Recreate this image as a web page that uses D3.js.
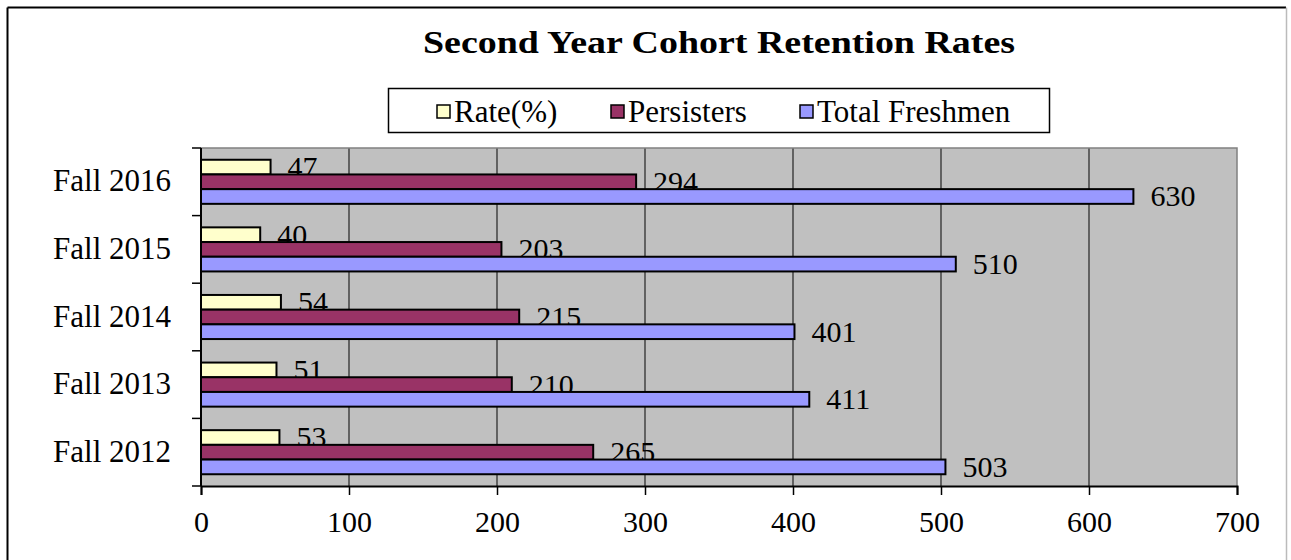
<!DOCTYPE html>
<html lang="en">
<head>
  <meta charset="UTF-8">
  <title>Second Year Cohort Retention Rates</title>
  <script src="https://d3js.org/d3.v7.min.js"></script>
  <style>
    body { margin: 0; background: #fff; }
    text { font-family: "Liberation Serif", "Times New Roman", serif; fill: #000; }
  </style>
</head>
<body>
  <svg width="1291" height="560"></svg>

  <script>
    // chart data
    const cohorts = ["Fall 2016", "Fall 2015", "Fall 2014", "Fall 2013", "Fall 2012"];
    const rate = [47, 40, 54, 51, 53];
    const persisters = [294, 203, 215, 210, 265];
    const totalFreshmen = [630, 510, 401, 411, 503];
    const seriesNames = ["Rate(%)", "Persisters", "Total Freshmen"];
    const seriesColors = ["#ffffcc", "#993366", "#9999ff"];
    const xTicks = [0, 100, 200, 300, 400, 500, 600, 700];

    const series = [rate, persisters, totalFreshmen];

    const svg = d3.select("svg");
    const plot = { left: 201, right: 1237, top: 148, bottom: 486 };

    // outer frame
    svg.append("line").attr("x1", 7.5).attr("y1", 7.5).attr("x2", 7.5).attr("y2", 560)
      .attr("stroke", "#000").attr("stroke-width", 2);
    svg.append("line").attr("x1", 7.5).attr("y1", 7.5).attr("x2", 1286).attr("y2", 7.5)
      .attr("stroke", "#000").attr("stroke-width", 2);
    svg.append("line").attr("x1", 1286.5).attr("y1", 7.5).attr("x2", 1286.5).attr("y2", 560)
      .attr("stroke", "#bbb").attr("stroke-width", 1.5);

    const x = d3.scaleLinear().domain([0, 700]).range([plot.left, plot.right]);
    const y = d3.scaleBand().domain(cohorts).range([plot.top, plot.bottom]).paddingInner(0).paddingOuter(0);
    const inner = d3.scaleBand().domain(d3.range(series.length)).range([0, y.bandwidth()])
      .paddingOuter(0.8).paddingInner(0);

    // plot background
    svg.append("rect")
      .attr("x", plot.left).attr("y", plot.top)
      .attr("width", plot.right - plot.left).attr("height", plot.bottom - plot.top)
      .attr("fill", "#c0c0c0");

    // gridlines
    svg.append("g").selectAll("line")
      .data(xTicks.filter(d => d > 0 && d < 700))
      .enter().append("line")
      .attr("x1", d => x(d)).attr("x2", d => x(d))
      .attr("y1", plot.top).attr("y2", plot.bottom)
      .attr("stroke", "#222").attr("stroke-width", 1.2);

    // plot border (top / right)
    svg.append("path")
      .attr("d", `M${plot.left},${plot.top}H${plot.right}V${plot.bottom}`)
      .attr("fill", "none").attr("stroke", "#808080").attr("stroke-width", 1.5);

    const groups = svg.append("g").selectAll("g")
      .data(cohorts)
      .enter().append("g")
      .attr("transform", d => `translate(0,${y(d)})`);

    // value labels (drawn first, the next bar covers their lower edge as in the original)
    groups.selectAll("text")
      .data((c, i) => series.map((s, k) => ({ k: k, v: s[i] })))
      .enter().append("text")
      .attr("x", d => x(d.v) + 17)
      .attr("y", d => inner(d.k) + inner.bandwidth() / 2 + 10)
      .attr("font-size", 30)
      .text(d => d.v);

    // bars
    groups.selectAll("rect")
      .data((c, i) => series.map((s, k) => ({ k: k, v: s[i] })))
      .enter().append("rect")
      .attr("x", x(0))
      .attr("y", d => inner(d.k))
      .attr("width", d => x(d.v) - x(0))
      .attr("height", inner.bandwidth())
      .attr("fill", d => seriesColors[d.k])
      .attr("stroke", "#000")
      .attr("stroke-width", 2);

    // x axis
    const xAxis = svg.append("g")
      .attr("transform", `translate(0,${plot.bottom})`)
      .call(d3.axisBottom(x).tickValues(xTicks).tickSize(9));
    xAxis.select(".domain").attr("stroke", "#000").attr("stroke-width", 2);
    xAxis.selectAll(".tick line").attr("stroke", "#000").attr("stroke-width", 1.5);
    xAxis.selectAll("text")
      .attr("y", 45.5).attr("dy", null)
      .attr("font-size", 30).attr("font-family", "Liberation Serif, serif");

    // y axis: ticks sit on category boundaries
    const yAxis = svg.append("g").attr("transform", `translate(${plot.left},0)`);
    yAxis.append("line")
      .attr("x1", 0).attr("x2", 0).attr("y1", plot.top).attr("y2", plot.bottom)
      .attr("stroke", "#000").attr("stroke-width", 2);
    yAxis.selectAll(".bound")
      .data(cohorts.map(c => y(c)).concat([plot.bottom]))
      .enter().append("line")
      .attr("class", "bound")
      .attr("x1", -9).attr("x2", 0)
      .attr("y1", d => d).attr("y2", d => d)
      .attr("stroke", "#000").attr("stroke-width", 1.5);
    yAxis.selectAll("text")
      .data(cohorts)
      .enter().append("text")
      .attr("x", -30)
      .attr("y", d => y(d) + y.bandwidth() / 2 + 9.5)
      .attr("text-anchor", "end")
      .attr("font-size", 31)
      .text(d => d);

    // title
    svg.append("text")
      .attr("x", 719).attr("y", 53)
      .attr("text-anchor", "middle")
      .attr("font-size", 31).attr("font-weight", "bold")
      .attr("textLength", 592).attr("lengthAdjust", "spacingAndGlyphs")
      .text("Second Year Cohort Retention Rates");

    // legend
    const legend = svg.append("g");
    legend.append("rect")
      .attr("x", 388.5).attr("y", 88.5).attr("width", 661).attr("height", 44)
      .attr("fill", "#fff").attr("stroke", "#000").attr("stroke-width", 1.5);
    const legendX = [437, 611, 800];
    const item = legend.selectAll(".item")
      .data(seriesNames)
      .enter().append("g")
      .attr("class", "item")
      .attr("transform", (d, i) => `translate(${legendX[i]},111)`);
    item.append("rect")
      .attr("x", 0).attr("y", -6).attr("width", 13).attr("height", 13)
      .attr("fill", (d, i) => seriesColors[i])
      .attr("stroke", "#000").attr("stroke-width", 1.5);
    item.append("text")
      .attr("x", 17).attr("y", 10.5)
      .attr("font-size", 31)
      .text(d => d);
  </script>
</body>
</html>
